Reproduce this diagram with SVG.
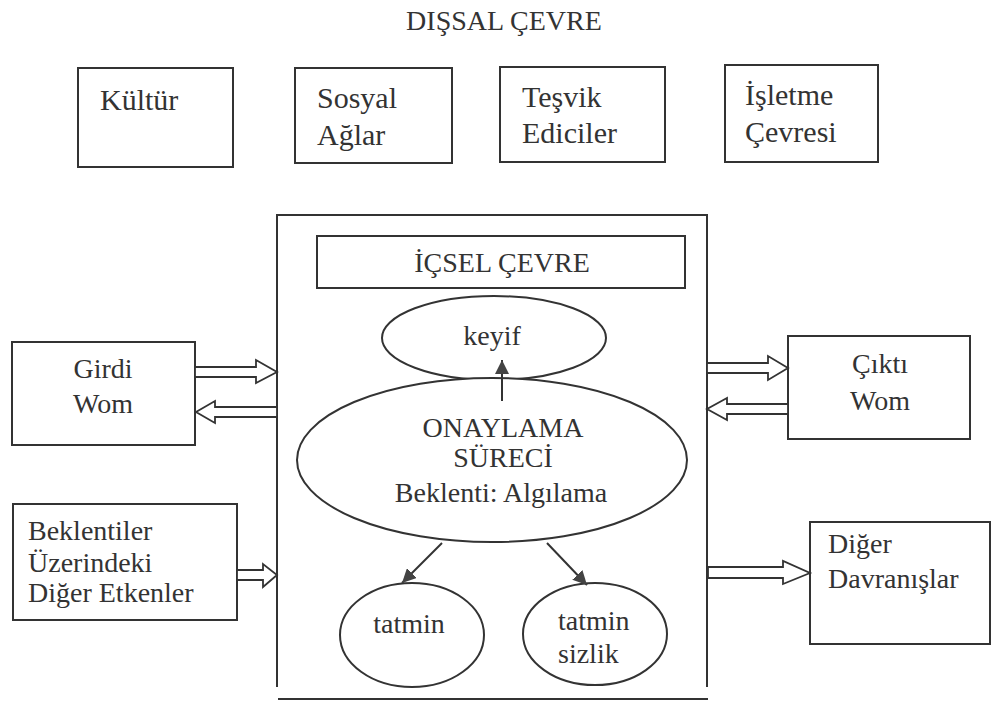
<svg xmlns="http://www.w3.org/2000/svg" width="997" height="711" viewBox="0 0 997 711">
<style>
.bx{fill:#fff;stroke:#333;stroke-width:2}
.el{fill:#fff;stroke:#333;stroke-width:2}
.ln{fill:none;stroke:#333;stroke-width:2}
.ba{fill:#fff;stroke:#333;stroke-width:1.8;stroke-linejoin:miter}
text{font-family:'Liberation Serif','DejaVu Serif','Times New Roman',serif;fill:#333}
.t{font-size:28px}
.tb{font-size:30px}
.c{text-anchor:middle}
</style>
<defs>
<marker id="ah" viewBox="0 0 10 10" refX="10" refY="5" markerWidth="14" markerHeight="14" markerUnits="userSpaceOnUse" orient="auto">
<path d="M0,0 L10,5 L0,10 z" fill="#444"/>
</marker>
</defs>
<rect width="997" height="711" fill="#fff"/>
<text class="t c" x="504" y="30" font-size="29">DIŞSAL ÇEVRE</text>

<g id="kultur"><rect class="bx" x="78" y="68" width="155" height="99"/><text class="tb" x="100" y="110">Kültür</text></g>
<g id="sosyal"><rect class="bx" x="295" y="68" width="157" height="95"/><text class="tb" x="317" y="108">Sosyal</text><text class="tb" x="317" y="145">Ağlar</text></g>
<g id="tesvik"><rect class="bx" x="500" y="67" width="165" height="95"/><text class="tb" x="522" y="107">Teşvik</text><text class="tb" x="522" y="143">Ediciler</text></g>
<g id="isletme"><rect class="bx" x="725" y="65" width="153" height="97"/><text class="tb" x="745" y="105">İşletme</text><text class="tb" x="745" y="142">Çevresi</text></g>

<g id="icsel">
<path class="ln" d="M277,687 V215 H707 V687"/>
<line class="ln" x1="278" y1="699" x2="708" y2="699"/>
<rect class="bx" x="317" y="236" width="368" height="52"/>
<text class="t c" x="502" y="272">İÇSEL ÇEVRE</text>
</g>

<g id="keyif"><ellipse class="el" cx="494" cy="338" rx="112" ry="42"/><text class="t c" x="492" y="345">keyif</text></g>
<g id="onaylama"><ellipse class="el" cx="492" cy="460" rx="195" ry="82"/>
<text class="t c" x="503" y="437">ONAYLAMA</text>
<text class="t c" x="503" y="467">SÜRECİ</text>
<text class="t c" x="501" y="502">Beklenti: Algılama</text></g>
<g id="tatmin"><ellipse class="el" cx="412" cy="635" rx="72" ry="52"/><text class="t c" x="409" y="633">tatmin</text></g>
<g id="tatminsizlik"><ellipse class="el" cx="595" cy="634" rx="72" ry="51"/><text class="t" x="558" y="630">tatmin</text><text class="t" x="558" y="663">sizlik</text></g>

<g id="girdi"><rect class="bx" x="12" y="342" width="183" height="103"/><text class="t c" x="103" y="378">Girdi</text><text class="t c" x="103" y="413">Wom</text></g>
<g id="cikti"><rect class="bx" x="788" y="336" width="182" height="103"/><text class="t c" x="880" y="373">Çıktı</text><text class="t c" x="880" y="410">Wom</text></g>
<g id="beklentiler"><rect class="bx" x="13" y="504" width="224" height="116"/><text class="t" x="28" y="540">Beklentiler</text><text class="t" x="28" y="572">Üzerindeki</text><text class="t" x="28" y="602">Diğer Etkenler</text></g>
<g id="diger"><rect class="bx" x="810" y="522" width="180" height="122"/><text class="t" x="828" y="553">Diğer</text><text class="t" x="828" y="588">Davranışlar</text></g>

<g id="connectors">
<line class="ln" x1="502" y1="401" x2="502" y2="360" marker-end="url(#ah)"/>
<line class="ln" x1="442" y1="543" x2="402" y2="583" marker-end="url(#ah)"/>
<line class="ln" x1="547" y1="543" x2="587" y2="585" marker-end="url(#ah)"/>
<polygon class="ba" points="195,367 256,367 256,360 277,372 256,383 256,377 195,377"/>
<polygon class="ba" points="277,407 215,407 215,401 196,412 215,423 215,417 277,417"/>
<polygon class="ba" points="707,363 768,363 768,356 788,368 768,380 768,373 707,373"/>
<polygon class="ba" points="788,404 727,404 727,398 707,409 727,420 727,414 788,414"/>
<polygon class="ba" points="237,570 263,570 263,564 277,575 263,587 263,580 237,580"/>
<polygon class="ba" points="708,567 783,567 783,561 810,573 783,584 783,578 708,578"/>
</g>
</svg>
